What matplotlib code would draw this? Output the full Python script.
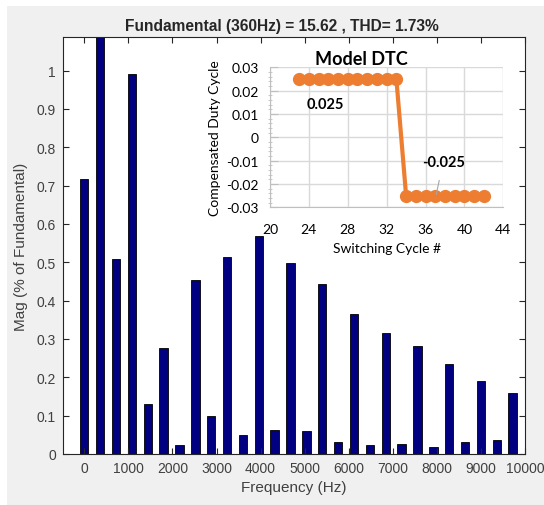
import matplotlib.pyplot as plt
import matplotlib.patches as mpatches

# harmonic spectrum (multiples of 360 Hz), % of fundamental
freqs = [360 * k for k in range(28)]
mags = [0.717, 100.0, 0.509, 0.990, 0.131, 0.277, 0.023, 0.455,
        0.099, 0.513, 0.049, 0.568, 0.063, 0.497, 0.061, 0.443,
        0.030, 0.365, 0.024, 0.315, 0.027, 0.281, 0.017, 0.236,
        0.030, 0.191, 0.036, 0.159]

# inset: duty cycle compensation
cycles = list(range(23, 43))
duty = [0.025] * 11 + [-0.025] * 9

W, H = 544, 506
fig = plt.figure(figsize=(W / 100, H / 100), dpi=100, facecolor='white')
fig.patches.append(mpatches.Rectangle((7 / W, -0.01), 1, 1.01 - 7 / H, transform=fig.transFigure,
                                      facecolor='#f0f0f0', edgecolor='none', zorder=-10))

tc = '#404040'
ax = fig.add_axes([62.7 / W, 1 - 455 / H, (525 - 62.7) / W, (455 - 38.3) / H])
ax.bar(freqs, mags, width=190, color='#000080', edgecolor='black', linewidth=0.6)
ax.set_xlim(-490, 10000)
ax.set_ylim(0, 1.087)
ax.set_xticks(range(0, 10001, 1000))
ax.set_yticks([i / 10 for i in range(11)])
ax.set_yticklabels(['0'] + ['%.1f' % (i / 10) for i in range(1, 10)] + ['1'])
ax.tick_params(direction='in', length=4, width=0.8, top=True, right=True,
               labelsize=10, colors='#262626', labelcolor=tc, pad=5)
for lab in ax.get_xticklabels() + ax.get_yticklabels():
    lab.set_family('Liberation Sans')
for s in ax.spines.values():
    s.set_color('#262626')
    s.set_linewidth(0.8)
ax.set_xlabel('Frequency (Hz)', fontsize=11, color=tc, family='Liberation Sans', labelpad=4)
ax.set_ylabel('Mag (% of Fundamental)', fontsize=11, color=tc, family='Liberation Sans', labelpad=6)
ax.set_title('Fundamental (360Hz) = 15.62 , THD= 1.73%', fontsize=11.2, fontweight='bold',
             color='#262626', family='Liberation Sans', pad=5, x=0.474)

# inset chart
ins = fig.add_axes([270 / W, 1 - 208.3 / H, (503.3 - 270) / W, (208.3 - 68.3) / H])
ins.patch.set_alpha(0)
orange = '#ED7D31'
ins.plot(cycles, duty, color=orange, linewidth=3, marker='o', markersize=8.5,
         markerfacecolor=orange, markeredgecolor=orange, zorder=3, clip_on=False)
ins.set_xlim(20, 44)
ins.set_ylim(-0.03, 0.03)
ins.set_xticks(range(20, 45, 4))
ins.set_yticks([-0.03, -0.02, -0.01, 0, 0.01, 0.02, 0.03])
ins.set_yticklabels(['-0.03', '-0.02', '-0.01', '0', '0.01', '0.02', '0.03'])
ins.set_yticks([i * 0.002 - 0.03 for i in range(31)], minor=True)
ins.grid(True, color='#d9d9d9', linewidth=1.0)
ins.set_axisbelow(True)
for k in ['top', 'right']:
    ins.spines[k].set_visible(False)
ins.spines['left'].set_color('#bfbfbf')
ins.spines['bottom'].set_color('#bfbfbf')
ins.tick_params(axis='y', which='major', length=6, color='#bfbfbf', direction='in',
                labelsize=10, labelcolor='black', pad=8)
ins.tick_params(axis='y', which='minor', length=3, color='#bfbfbf', direction='inout')
ins.tick_params(axis='x', length=0, labelsize=10, labelcolor='black', pad=11)
for lab in ins.get_xticklabels() + ins.get_yticklabels():
    lab.set_family('Lato')
ins.set_xlabel('Switching Cycle #', fontsize=10, family='Lato', labelpad=5)
ins.set_ylabel('Compensated Duty Cycle', fontsize=10, family='Lato', labelpad=4)
ins.set_title('Model DTC', fontsize=13, fontweight='bold', family='Lato', pad=0, x=0.393)
ins.text(23.8, 0.0125, '0.025', fontsize=10.5, fontweight='bold', family='Lato')
ins.annotate('-0.025', xy=(37.1, -0.0245), xytext=(35.6, -0.0125), fontsize=10.5,
             fontweight='bold', family='Lato',
             arrowprops=dict(arrowstyle='-', color='#a6a6a6', lw=0.8,
                             shrinkA=6, shrinkB=0))

fig.savefig('out.png', dpi=100, facecolor=fig.get_facecolor())
